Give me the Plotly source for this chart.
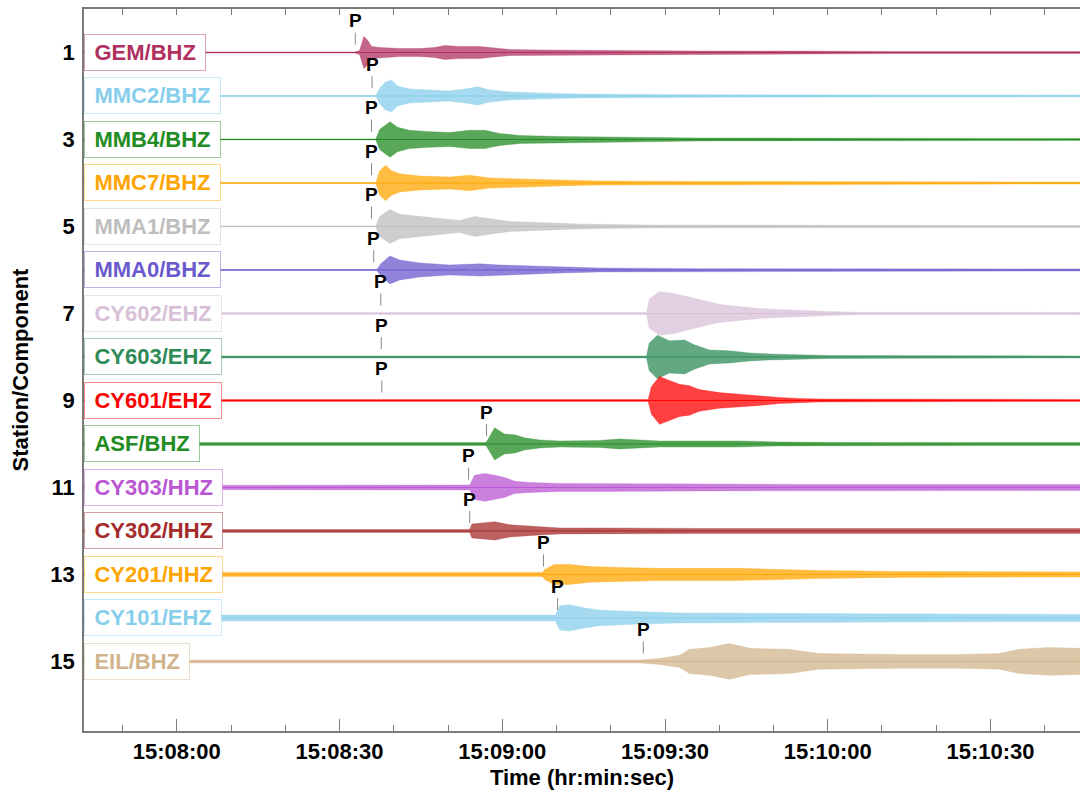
import pandas as pd
import plotly.graph_objects as go

# ---------------- data (times in seconds after 15:07:00) ----------------
stations = ["GEM/BHZ", "MMC2/BHZ", "MMB4/BHZ", "MMC7/BHZ", "MMA1/BHZ", "MMA0/BHZ",
            "CY602/EHZ", "CY603/EHZ", "CY601/EHZ", "ASF/BHZ", "CY303/HHZ", "CY302/HHZ",
            "CY201/HHZ", "CY101/EHZ", "EIL/BHZ"]

t_start = 42.9
t_end = 226.5

# waveform envelope knots: time (s) and half-amplitude (in trace-spacing units)
env_t = [
    [42.9, 92.8, 93.7, 94.5, 95.2, 95.9, 97.4, 101.1, 104.8, 107.5, 109.4, 112.1, 115.8, 119.5, 121.4, 126.9, 137.9, 147.1, 156.3, 174.8, 193.2, 226.5],
    [42.9, 96.7, 97.4, 98.5, 99.6, 100.7, 102.9, 106.6, 110.3, 113.1, 115.5, 117.7, 121.4, 126.9, 134.2, 147.1, 160.0, 226.5],
    [42.9, 96.7, 97.4, 99.3, 100.7, 102.9, 106.6, 110.3, 114.0, 116.8, 119.5, 123.2, 130.6, 137.9, 156.3, 226.5],
    [42.9, 96.7, 97.4, 98.5, 99.6, 101.1, 104.8, 110.3, 114.0, 117.7, 123.2, 130.6, 137.9, 156.3, 226.5],
    [42.9, 96.7, 97.4, 99.3, 101.1, 104.8, 108.5, 112.1, 114.9, 117.7, 121.4, 126.9, 134.2, 147.1, 226.5],
    [42.9, 96.9, 97.6, 99.3, 101.1, 104.8, 110.3, 115.8, 119.5, 125.0, 130.6, 137.9, 156.3, 226.5],
    [42.9, 101.1, 104.8, 119.5, 123.2, 146.6, 147.1, 149.0, 151.7, 154.5, 157.3, 160.0, 163.7, 167.4, 171.1, 174.8, 180.3, 185.8, 226.5],
    [42.9, 146.6, 147.1, 148.6, 150.8, 153.6, 155.4, 158.2, 161.9, 165.6, 169.2, 174.8, 180.3, 226.5],
    [42.9, 146.9, 147.5, 149.0, 150.8, 152.7, 154.5, 156.3, 160.0, 163.7, 167.4, 171.1, 174.8, 178.4, 226.5],
    [42.9, 117.0, 117.3, 118.6, 120.4, 122.3, 124.1, 126.9, 130.6, 134.2, 137.9, 141.6, 145.3, 149.0, 163.7, 171.1, 184.0, 226.5],
    [42.9, 114.0, 114.9, 116.8, 118.6, 120.4, 122.3, 125.0, 130.6, 137.9, 156.3, 174.8, 226.5],
    [42.9, 114.0, 114.4, 115.8, 118.6, 121.4, 124.1, 126.9, 130.6, 137.9, 156.3, 226.5],
    [42.9, 127.4, 127.8, 129.6, 132.4, 136.1, 141.6, 149.0, 156.3, 163.7, 171.1, 178.4, 193.2, 226.5],
    [42.9, 129.8, 130.6, 132.4, 135.2, 137.9, 141.6, 145.3, 152.7, 174.8, 193.2, 211.6, 226.5],
    [42.9, 145.3, 149.0, 152.7, 154.5, 158.2, 161.9, 165.6, 172.9, 178.4, 193.2, 204.2, 211.6, 215.3, 220.8, 226.5],
]
env_a = [
    [0.014, 0.014, 0.046, 0.37, 0.28, 0.14, 0.115, 0.092, 0.092, 0.115, 0.16, 0.14, 0.14, 0.092, 0.069, 0.057, 0.046, 0.046, 0.034, 0.034, 0.023, 0.023],
    [0.011, 0.011, 0.18, 0.32, 0.37, 0.23, 0.16, 0.14, 0.115, 0.16, 0.21, 0.14, 0.092, 0.069, 0.046, 0.034, 0.028, 0.018],
    [0.011, 0.011, 0.23, 0.41, 0.28, 0.21, 0.18, 0.16, 0.21, 0.21, 0.14, 0.092, 0.069, 0.057, 0.034, 0.023],
    [0.011, 0.011, 0.28, 0.41, 0.28, 0.21, 0.16, 0.14, 0.18, 0.115, 0.092, 0.069, 0.046, 0.034, 0.023],
    [0.011, 0.011, 0.23, 0.39, 0.28, 0.23, 0.18, 0.14, 0.23, 0.18, 0.115, 0.092, 0.057, 0.034, 0.023],
    [0.011, 0.011, 0.14, 0.32, 0.23, 0.16, 0.115, 0.14, 0.115, 0.092, 0.069, 0.046, 0.03, 0.023],
    [0.023, 0.023, 0.034, 0.034, 0.023, 0.023, 0.34, 0.5, 0.46, 0.37, 0.28, 0.21, 0.16, 0.115, 0.092, 0.069, 0.046, 0.028, 0.023],
    [0.023, 0.023, 0.32, 0.5, 0.37, 0.39, 0.28, 0.16, 0.14, 0.092, 0.069, 0.046, 0.034, 0.023],
    [0.023, 0.023, 0.32, 0.55, 0.46, 0.37, 0.34, 0.25, 0.18, 0.14, 0.115, 0.069, 0.046, 0.034, 0.023],
    [0.034, 0.034, 0.092, 0.37, 0.23, 0.21, 0.14, 0.092, 0.069, 0.069, 0.08, 0.115, 0.092, 0.069, 0.069, 0.046, 0.034, 0.034],
    [0.046, 0.057, 0.28, 0.32, 0.28, 0.23, 0.14, 0.115, 0.092, 0.092, 0.08, 0.069, 0.069],
    [0.034, 0.034, 0.16, 0.18, 0.21, 0.14, 0.115, 0.092, 0.069, 0.069, 0.057, 0.057],
    [0.046, 0.046, 0.115, 0.23, 0.23, 0.18, 0.16, 0.14, 0.14, 0.14, 0.115, 0.092, 0.069, 0.057],
    [0.069, 0.069, 0.28, 0.3, 0.23, 0.18, 0.16, 0.14, 0.115, 0.103, 0.092, 0.08, 0.08],
    [0.034, 0.034, 0.069, 0.14, 0.28, 0.32, 0.41, 0.3, 0.28, 0.18, 0.16, 0.16, 0.18, 0.28, 0.32, 0.3],
]

# P-phase picks (seconds after 15:07:00)
p_pick = [92.9, 96.0, 95.9, 95.9, 95.9, 96.3, 97.6, 97.7, 97.8, 117.1, 113.8, 114.0, 127.6, 130.2, 146.0]

ytick_vals = [1, 3, 5, 7, 9, 11, 13, 15]
ytick_text = ["1", "3", "5", "7", "9", "11", "13", "15"]

# ---------------- styles ----------------
colors = ["#B03060", "#87CEEB", "#228B22", "#FFA500", "#BEBEBE", "#6A5ACD",
          "#D8BFD8", "#2E8B57", "#FF0000", "#228B22", "#BA55D3", "#A52A2A",
          "#FFA500", "#87CEEB", "#D2B48C"]
FONT = "Liberation Sans, Arial, Helvetica, sans-serif"
AXIS_COLOR = "#7a7a7a"

BASE = pd.Timestamp("2000-01-01 15:07:00")


def ts(sec):
    return BASE + pd.to_timedelta(sec, unit="s")


def rgba(h, a):
    h = h.lstrip("#")
    r, g, b = int(h[0:2], 16), int(h[2:4], 16), int(h[4:6], 16)
    return f"rgba({r},{g},{b},{a})"


fig = go.Figure()

for i, name in enumerate(stations):
    off = i + 1
    col = colors[i]
    tt = [ts(s) for s in env_t[i]]
    aa = env_a[i]
    # baseline
    fig.add_trace(go.Scatter(
        x=[ts(t_start), ts(t_end)], y=[off, off], mode="lines",
        line=dict(color=col, width=1), hoverinfo="skip", showlegend=False))
    # envelope of the waveform
    xs = tt + tt[::-1]
    ys = [off - a for a in aa] + [off + a for a in aa[::-1]]
    fig.add_trace(go.Scatter(
        x=xs, y=ys, mode="lines", fill="toself",
        fillcolor=rgba(col, 0.75), line=dict(color=rgba(col, 0.5), width=0.6),
        hoverinfo="skip", showlegend=False))

# invisible trace on the top axis so that it is drawn
fig.add_trace(go.Scatter(x=[ts(t_start), ts(t_end)], y=[0, 0], xaxis="x2",
                         mode="lines", opacity=0, hoverinfo="skip", showlegend=False))

annotations = []
for i, name in enumerate(stations):
    off = i + 1
    col = colors[i]
    annotations.append(dict(
        x=0, xref="paper", xanchor="left", y=off, yref="y", yanchor="middle",
        text="\u2009" + name + "\u2009", showarrow=False,
        font=dict(family=FONT, size=22, color=col, weight="bold"),
        bgcolor="white", bordercolor=rgba(col, 0.45), borderwidth=1, borderpad=5))
    annotations.append(dict(
        x=ts(p_pick[i]), xref="x", y=off - 0.18, yref="y",
        text="P", showarrow=True, arrowhead=0, arrowwidth=1, arrowcolor="#888888",
        ax=0, ay=-24, standoff=0,
        font=dict(family=FONT, size=19, color="black", weight="bold")))

fig.update_layout(
    width=1081, height=792,
    margin=dict(l=84, r=1, t=9, b=61),
    paper_bgcolor="white", plot_bgcolor="white",
    font=dict(family=FONT, color="black"),
    annotations=annotations,
    xaxis=dict(
        type="date", range=[ts(t_start), ts(t_end)], automargin=False,
        tick0=ts(60), dtick=30000, tickformat="%H:%M:%S",
        ticks="inside", ticklen=12, tickwidth=1, tickcolor=AXIS_COLOR,
        minor=dict(dtick=10000, tick0=ts(60), ticks="inside", ticklen=6,
                   tickcolor=AXIS_COLOR, showgrid=False),
        showline=True, linecolor=AXIS_COLOR, linewidth=1.5, mirror=True,
        showgrid=False, zeroline=False,
        tickfont=dict(family=FONT, size=22, color="black", weight="bold"),
        title=dict(text="Time (hr:min:sec)", standoff=6,
                   font=dict(family=FONT, size=22, color="black", weight="bold")),
    ),
    xaxis2=dict(
        type="date", overlaying="x", side="top", range=[ts(t_start), ts(t_end)],
        automargin=False,
        tick0=ts(60), dtick=10000, ticks="inside", ticklen=6, tickcolor=AXIS_COLOR,
        showticklabels=False, showline=False, showgrid=False, zeroline=False,
    ),
    yaxis=dict(
        range=[16.6, 0], tickvals=ytick_vals, ticktext=ytick_text, automargin=False,
        ticks="", showline=True, linecolor=AXIS_COLOR, linewidth=1.5,
        showgrid=False, zeroline=False, ticklabelstandoff=3,
        tickfont=dict(family=FONT, size=22, color="black", weight="bold"),
        title=dict(text="Station/Component", standoff=16,
                   font=dict(family=FONT, size=22, color="black", weight="bold")),
    ),
)

fig.write_html(
    "out.html",
    config={"displayModeBar": False},
    post_script="document.body.style.margin='0';document.body.style.overflow='hidden';",
)
